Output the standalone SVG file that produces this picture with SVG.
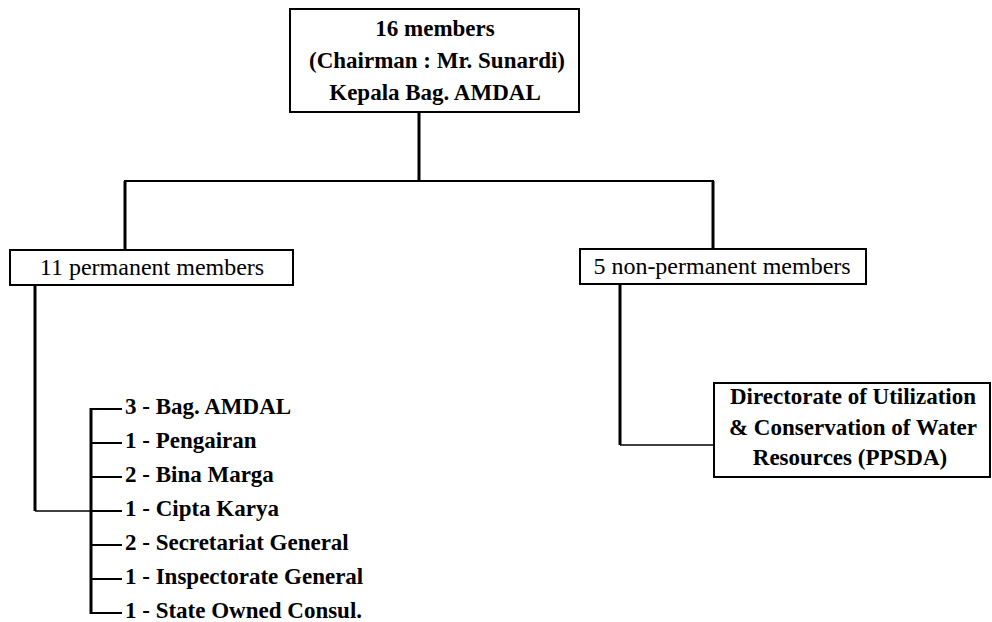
<svg xmlns="http://www.w3.org/2000/svg" width="992" height="622" viewBox="0 0 992 622">
<style>
.bg{fill:#ffffff}
.box{fill:#ffffff;stroke:#000;stroke-width:2}
.t{font-family:"Liberation Serif","Times New Roman",serif;font-size:23px;font-weight:bold;fill:#000}
.tm{font-family:"Liberation Serif","Times New Roman",serif;font-size:24px;font-weight:normal;fill:#000}
.c{text-anchor:middle}
.thick{stroke:#000;stroke-width:3;fill:none}
.mid{stroke:#000;stroke-width:2;fill:none}
.thin{stroke:#000;stroke-width:1.5;fill:none}
</style>
<rect class="bg" x="0" y="0" width="992" height="622"/>
<g id="connectors">
<line class="thick" x1="419" y1="112" x2="419" y2="181"/>
<line class="mid" x1="124" y1="181" x2="714" y2="181"/>
<line class="thick" x1="125" y1="181" x2="125" y2="250"/>
<line class="thick" x1="713" y1="181" x2="713" y2="249"/>
<polyline class="thick" points="35,285 35,511"/>
<line class="thin" x1="35" y1="511" x2="91" y2="511"/>
<polyline class="thick" points="620,284 620,445"/>
<line class="thin" x1="620" y1="445" x2="714" y2="445"/>
<line class="thick" x1="91" y1="408" x2="91" y2="614"/>
<g class="mid">
<line x1="90" y1="409" x2="122" y2="409"/>
<line x1="91" y1="443" x2="122" y2="443"/>
<line x1="91" y1="477" x2="122" y2="477"/>
<line x1="91" y1="511" x2="122" y2="511"/>
<line x1="91" y1="545" x2="122" y2="545"/>
<line x1="91" y1="579" x2="122" y2="579"/>
<line x1="90" y1="613" x2="122" y2="613"/>
</g>
</g>
<g id="node-top">
<rect class="box" x="290" y="9" width="289" height="103"/>
<text class="t c" x="435" y="36">16 members</text>
<text class="t c" x="437" y="68">(Chairman : Mr. Sunardi)</text>
<text class="t c" x="435" y="100">Kepala Bag. AMDAL</text>
</g>
<g id="node-permanent">
<rect class="box" x="10" y="250" width="283" height="35"/>
<text class="tm c" x="152" y="275">11 permanent members</text>
</g>
<g id="node-nonpermanent">
<rect class="box" x="580" y="249" width="286" height="35"/>
<text class="tm c" x="722" y="274">5 non-permanent members</text>
</g>
<g id="node-directorate">
<rect class="box" x="714" y="383" width="276" height="94"/>
<text class="t c" x="853" y="404">Directorate of Utilization</text>
<text class="t c" x="853" y="435">&amp; Conservation of Water</text>
<text class="t c" x="850" y="465">Resources (PPSDA)</text>
</g>
<g id="node-list">
<text class="t" x="125" y="414">3 - Bag. AMDAL</text>
<text class="t" x="125" y="448">1 - Pengairan</text>
<text class="t" x="125" y="482">2 - Bina Marga</text>
<text class="t" x="125" y="516">1 - Cipta Karya</text>
<text class="t" x="125" y="550">2 - Secretariat General</text>
<text class="t" x="125" y="584">1 - Inspectorate General</text>
<text class="t" x="125" y="618">1 - State Owned Consul.</text>
</g>
</svg>
